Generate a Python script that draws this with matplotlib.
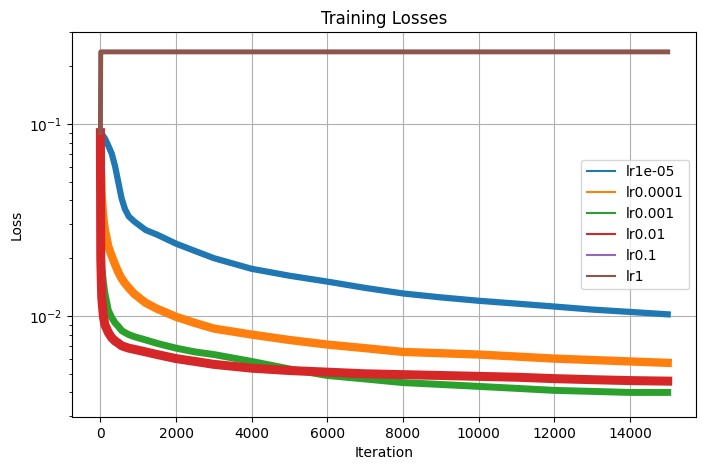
import matplotlib.pyplot as plt

# Точки (итерация -> loss)
iterations = [0, 10, 35, 80, 120, 210, 300, 390, 480, 560, 650, 750, 900,
              1200, 1500, 2000, 2500, 3000, 4000, 5000, 6000, 7000, 8000,
              9000, 10000, 11000, 12000, 13000, 14000, 15000]

loss_lr1e_05 = [0.0895, 0.0893, 0.089, 0.086, 0.084, 0.077, 0.070, 0.060, 0.049,
                0.041, 0.036, 0.033, 0.031, 0.028, 0.0265, 0.0238, 0.0218,
                0.0200, 0.0176, 0.0162, 0.0151, 0.0140, 0.0131, 0.0125, 0.0120,
                0.0116, 0.0112, 0.0108, 0.0105, 0.0102]
loss_lr0_0001 = [0.090, 0.060, 0.042, 0.032, 0.028, 0.023, 0.0205, 0.0185, 0.0168,
                 0.0157, 0.0148, 0.0140, 0.0130, 0.0117, 0.0109, 0.0099, 0.0092,
                 0.0086, 0.0080, 0.0075, 0.0071, 0.0068, 0.0065, 0.0064, 0.0063,
                 0.00615, 0.0060, 0.0059, 0.0058, 0.0057]
loss_lr0_001 = [0.090, 0.035, 0.018, 0.0150, 0.0131, 0.0107, 0.0098, 0.0092, 0.0088,
                0.0084, 0.0082, 0.0080, 0.0078, 0.0075, 0.0072, 0.0068, 0.0065,
                0.0063, 0.0058, 0.0053, 0.0049, 0.0047, 0.0045, 0.0044, 0.0043,
                0.0042, 0.0041, 0.00405, 0.0040, 0.0040]
loss_lr0_01 = [0.090, 0.020, 0.0125, 0.0099, 0.0090, 0.0082, 0.0077, 0.0074,
               0.0072, 0.0070, 0.0069, 0.0068, 0.0067, 0.0065, 0.0063, 0.0060,
               0.0058, 0.0056, 0.00535, 0.0052, 0.0051, 0.0050, 0.00495, 0.0049,
               0.00485, 0.0048, 0.00472, 0.00466, 0.00461, 0.00458]
loss_lr0_1 = [0.090] + [0.237] * (len(iterations) - 1)
loss_lr1 = [0.090] + [0.237] * (len(iterations) - 1)

labels = ["lr1e-05", "lr0.0001", "lr0.001", "lr0.01", "lr0.1", "lr1"]
series = [loss_lr1e_05, loss_lr0_0001, loss_lr0_001, loss_lr0_01, loss_lr0_1, loss_lr1]
# толщина линии изображает шумовую полосу
widths = [4.5, 6, 5, 6.5, 3, 3.5]

fig, ax = plt.subplots(figsize=(7.02, 4.70), dpi=100)
fig.subplots_adjust(left=0.1026, right=0.9915, top=0.932, bottom=0.1128)

for values, label, lw in zip(series, labels, widths):
    ax.plot(iterations, values, label=label, linewidth=lw)

ax.set_yscale("log")
ax.set_xlim(-750, 15749)
ax.set_ylim(0.00298, 0.301)
ax.set_title("Training Losses")
ax.set_xlabel("Iteration")
ax.set_ylabel("Loss")
ax.grid(True)

leg = ax.legend(loc="center right")
for line in leg.get_lines():
    line.set_linewidth(1.5)

plt.savefig("out.png", dpi=100)
plt.close()
